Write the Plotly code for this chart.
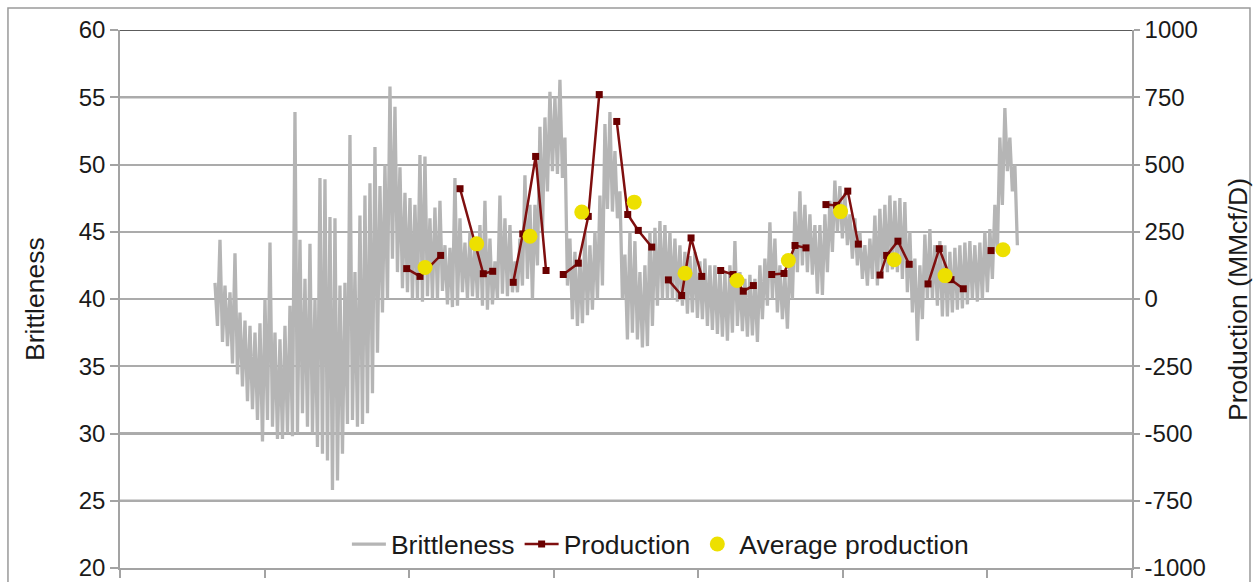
import numpy as np
import plotly.graph_objects as go

# Brittleness log along the lateral (alternating local highs and lows of the trace)
brittleness = [
    41.2, 38.0, 44.4, 36.8, 41.0, 36.5, 40.5, 35.2, 43.4, 34.4,
    39.0, 33.5, 38.4, 32.4, 38.0, 31.8, 37.5, 31.0, 38.2, 29.4,
    40.0, 31.0, 44.2, 30.5, 37.5, 29.6, 37.0, 29.6, 38.0, 30.0,
    39.5, 29.8, 53.9, 30.0, 44.4, 31.5, 41.5, 30.5, 44.1, 30.0,
    40.0, 29.0, 49.0, 28.5, 48.9, 28.0, 46.1, 25.8, 46.0, 26.5,
    41.0, 28.5, 41.2, 30.7, 52.2, 31.0, 42.0, 30.5, 46.2, 30.7,
    47.7, 31.5, 48.6, 33.0, 51.3, 36.0, 48.4, 39.0, 50.0, 40.0,
    55.8, 43.0, 54.3, 42.0, 49.8, 40.8, 47.9, 40.5, 47.5, 40.0,
    47.0, 40.0, 50.7, 39.8, 50.6, 40.2, 46.0, 40.0, 46.8, 40.0,
    47.3, 40.6, 44.0, 39.6, 43.8, 39.4, 49.0, 39.5, 46.0, 40.5,
    44.2, 40.0, 45.0, 40.2, 44.0, 40.0, 45.5, 39.5, 47.3, 39.2,
    44.5, 39.6, 42.8, 40.0, 47.7, 40.4, 46.0, 40.2, 45.5, 40.5,
    42.8, 40.5, 44.5, 41.0, 49.2, 41.5, 47.0, 40.0, 47.0, 42.5,
    52.8, 45.0, 53.5, 48.0, 55.4, 49.5, 55.0, 49.3, 56.3, 49.0,
    52.0, 41.0, 44.5, 38.5, 43.5, 38.0, 43.0, 38.2, 45.0, 38.8,
    44.0, 39.2, 45.0, 40.0, 47.7, 41.0, 53.0, 46.7, 53.9, 46.5,
    51.0, 46.0, 48.0, 40.0, 43.3, 37.0, 45.0, 37.5, 44.3, 37.0,
    42.0, 36.4, 42.5, 36.5, 45.0, 38.0, 45.3, 39.5, 45.8, 40.0,
    45.5, 40.0, 45.0, 40.0, 44.5, 39.8, 44.0, 39.5, 43.5, 38.9,
    43.2, 39.0, 43.5, 38.6, 42.8, 38.5, 43.0, 38.0, 42.5, 37.7,
    42.5, 37.4, 42.3, 37.2, 42.0, 36.9, 42.5, 37.5, 44.3, 38.0,
    42.0, 37.6, 41.5, 37.2, 41.8, 37.3, 41.5, 36.8, 42.5, 38.5,
    43.0, 39.5, 45.7, 40.0, 44.5, 39.0, 42.5, 38.5, 41.8, 37.8,
    43.0, 40.0, 46.5, 42.0, 48.0, 42.5, 47.0, 42.0, 46.3, 41.8,
    45.5, 40.4, 45.5, 40.3, 46.3, 42.0, 47.3, 43.5, 48.8, 45.0,
    48.4, 44.5, 47.9, 44.0, 46.3, 43.0, 46.0, 42.5, 45.0, 41.5,
    44.0, 41.0, 44.5, 41.5, 46.2, 41.0, 46.7, 42.0, 47.0, 42.0,
    47.7, 42.2, 47.3, 42.0, 47.5, 41.5, 47.2, 40.5, 45.0, 39.0,
    43.0, 36.9, 42.5, 38.5, 44.8, 40.0, 45.2, 40.0, 44.0, 39.5,
    44.3, 38.7, 44.0, 38.7, 43.5, 39.0, 43.8, 39.2, 44.0, 39.3,
    44.2, 39.6, 44.3, 40.0, 44.0, 39.8, 44.2, 40.0, 45.0, 40.5,
    45.2, 41.5, 47.0, 43.5, 52.0, 47.0, 54.2, 49.5, 52.0, 48.0,
    50.0, 44.0,
]
log_start_ft = 657
log_step_ft = 17.29
lateral_ft = log_start_ft + log_step_ft * np.arange(len(brittleness))

# Stage production, one run of points per well (None breaks the line)
stage_x = [
    1983, 2075, 2218, None,
    2352, 2513, 2578, None,
    2720, 2786, 2875, 2947, None,
    3066, 3170, 3239, 3315, None,
    3436, 3512, 3585, 3678, None,
    3793, 3885, 3950, 4024, None,
    4155, 4240, 4311, 4381, None,
    4508, 4593, 4669, 4745, None,
    4883, 4957, 5034, 5107, None,
    5257, 5303, 5381, 5459, None,
    5589, 5667, 5748, 5833, None,
    6025,
]
production = [
    113, 84, 162, None,
    410, 94, 103, None,
    62, 242, 530, 106, None,
    91, 133, 307, 760, None,
    660, 314, 255, 193, None,
    71, 13, 227, 84, None,
    106, 91, 29, 50, None,
    91, 95, 199, 190, None,
    351, 348, 401, 204, None,
    89, 162, 215, 129, None,
    56, 187, 72, 38, None,
    180,
]

# Average production per well
avg_x = [2110, 2467, 2836, 3194, 3557, 3908, 4268, 4623, 4984, 5355, 5707, 6108]
avg_production = [117, 205, 233, 323, 360, 96, 69, 143, 325, 146, 87, 183]

left_ticks = [20, 25, 30, 35, 40, 45, 50, 55, 60]
right_ticks = [-1000, -750, -500, -250, 0, 250, 500, 750, 1000]
x_ticks = [0, 1000, 2000, 3000, 4000, 5000, 6000, 7000]
dark_grid_levels = [60, 55, 30, 25]

FONT = "Liberation Sans, Arial, sans-serif"
TXT = "#1a1a1a"
AXIS_GRAY = "#a3a3a3"
TICK_SIZE = 24
LABEL_SIZE = 26.5

fig = go.Figure()
fig.add_trace(go.Scatter(
    x=lateral_ft, y=brittleness, mode="lines", name="Brittleness",
    line=dict(color="#b5b5b5", width=3.3), yaxis="y",
))
fig.add_trace(go.Scatter(
    x=stage_x, y=production, mode="lines+markers", name="Production",
    line=dict(color="#7f0f0f", width=2.5),
    marker=dict(symbol="square", size=7, color="#6a0000"),
    connectgaps=False, yaxis="y2",
))
fig.add_trace(go.Scatter(
    x=avg_x, y=avg_production, mode="markers", name="Average production",
    marker=dict(color="#ede000", size=15, line=dict(width=0)),
    yaxis="y2",
))

shapes = [
    dict(type="line", xref="paper", x0=0, x1=1, yref="y", y0=v, y1=v,
         line=dict(color="#5c5c5c", width=2), layer="below")
    for v in dark_grid_levels
]
# outer frame
shapes.append(dict(type="rect", xref="paper", yref="paper",
                   x0=-0.1107, x1=1.1166, y0=-0.05, y1=1.0409,
                   line=dict(color="#9a9a9a", width=1.5), layer="below"))

fig.update_layout(
    width=1257, height=582,
    margin=dict(l=120, r=125, t=30, b=14),
    paper_bgcolor="white", plot_bgcolor="white",
    font=dict(family=FONT, size=LABEL_SIZE, color=TXT),
    showlegend=True,
    legend=dict(orientation="h", x=0.534, xanchor="center", y=0.044,
                yanchor="middle", bgcolor="rgba(0,0,0,0)",
                font=dict(family=FONT, size=LABEL_SIZE, color=TXT),
                itemwidth=34, tracegroupgap=0),
    xaxis=dict(range=[0, 7000], tickvals=x_ticks, showticklabels=False,
               ticks="outside", ticklen=8, tickcolor=AXIS_GRAY, tickwidth=1.5,
               showgrid=False, zeroline=False, showline=True,
               linecolor=AXIS_GRAY, linewidth=1.5, automargin=False),
    yaxis=dict(range=[20, 60], tickvals=left_ticks, ticks="outside",
               ticklen=8, tickcolor=AXIS_GRAY, tickwidth=1.5,
               showgrid=True, gridcolor="#ababab", gridwidth=1.5,
               zeroline=False, showline=True, linecolor=AXIS_GRAY,
               linewidth=1.5, ticklabelstandoff=0, automargin=False,
               tickfont=dict(family=FONT, size=TICK_SIZE, color=TXT)),
    yaxis2=dict(range=[-1000, 1000], tickvals=right_ticks,
                ticktext=[str(v) for v in right_ticks],
                overlaying="y", side="right", ticks="outside", ticklen=6,
                tickcolor=AXIS_GRAY, tickwidth=1.5, showgrid=False,
                zeroline=False, showline=True, linecolor=AXIS_GRAY,
                linewidth=1.5, ticklabelstandoff=0, automargin=False,
                tickfont=dict(family=FONT, size=TICK_SIZE, color=TXT)),
    shapes=shapes,
    annotations=[
        dict(text="Brittleness", xref="paper", yref="paper", x=-0.084, y=0.5,
             textangle=-90, showarrow=False, xanchor="center", yanchor="middle",
             font=dict(family=FONT, size=LABEL_SIZE, color=TXT)),
        dict(text="Production (MMcf/D)", xref="paper", yref="paper", x=1.1047,
             y=0.5, textangle=-90, showarrow=False, xanchor="center",
             yanchor="middle", font=dict(family=FONT, size=LABEL_SIZE, color=TXT)),
    ],
)

fig.write_html("out.html")
